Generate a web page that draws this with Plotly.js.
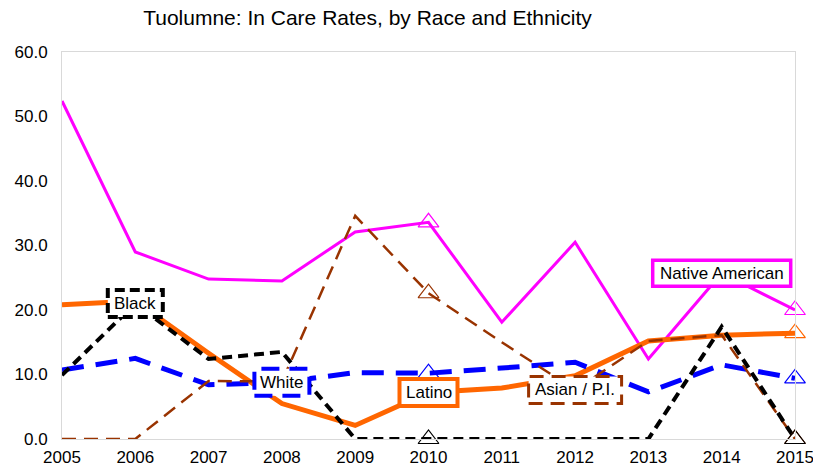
<!DOCTYPE html>
<html>
<head>
<meta charset="utf-8">
<script src="https://cdn.plot.ly/plotly-3.0.1.min.js"></script>
<style>html,body{margin:0;padding:0;background:#fff;}#chart{width:813px;height:471px;}</style>
</head>
<body>
<div id="chart"></div>
<script>
const years = [2005, 2006, 2007, 2008, 2009, 2010, 2011, 2012, 2013, 2014, 2015];
const nativeAmerican = [52.4, 29.0, 24.8, 24.5, 32.1, 33.6, 18.1, 30.5, 12.4, 25.7, 20.0];
const latino = [20.8, 21.4, 13.3, 5.5, 2.1, 7.2, 7.9, 9.8, 15.2, 16.1, 16.4];
const white = [10.7, 12.5, 8.4, 8.8, 10.3, 10.2, 11.0, 11.9, 7.3, 11.5, 9.4];
const asianPI = [0.0, 0.0, 9.0, 8.9, 34.6, 22.6, 15.0, 7.6, 15.2, 16.1, 0.0];
const black = [9.9, 21.0, 12.4, 13.5, 0.0, 0.0, 0.0, 0.0, 0.0, 17.4, 0.0];
const seriesNames = ["Native American", "Latino", "White", "Asian / P.I.", "Black"];
const markerYears = [2010, 2015];
const labelYears = {"Native American": 2014, "Latino": 2010, "White": 2008, "Asian / P.I.": 2012, "Black": 2006};

const styles = {
  "Native American": {color: "#FF00FF", width: 3, dash: "solid", box: [138, 26], bdash: "solid", bw: 3.5},
  "Latino": {color: "#FF6600", width: 5, dash: "solid", box: [58, 27], bdash: "solid", bw: 4},
  "White": {color: "#0000FF", width: 5, dash: "22px,12px", box: [55, 27], bdash: "18px,10px", bw: 4},
  "Asian / P.I.": {color: "#993300", width: 2.5, dash: "14px,8px", box: [93, 27], bdash: "14px,8px", bw: 3},
  "Black": {color: "#000000", width: 4, dash: "10px,6px", box: [55, 27], bdash: "10px,5px", bw: 4}
};
const dataMap = {"Native American": nativeAmerican, "Latino": latino, "White": white, "Asian / P.I.": asianPI, "Black": black};
const FONT = "Liberation Sans, Arial, sans-serif";

const traces = [];
const shapes = [];
const annotations = [];
seriesNames.forEach(name => {
  const s = styles[name];
  const vals = dataMap[name];
  traces.push({x: years, y: vals, type: "scatter", mode: "lines", name: name,
    line: {color: s.color, width: s.width, dash: s.dash}, cliponaxis: false, hoverinfo: "x+y+name"});
});
seriesNames.forEach(name => {
  const s = styles[name];
  const vals = dataMap[name];
  const mx = markerYears, my = markerYears.map(yr => vals[years.indexOf(yr)]);
  traces.push({x: mx, y: my, type: "scatter", mode: "markers", showlegend: false, cliponaxis: false,
    marker: {symbol: "triangle-up-open", size: 18, color: s.color, line: {width: 1.2, color: s.color}}});
  const ly = labelYears[name];
  const lv = vals[years.indexOf(ly)];
  const w = s.box[0], h = s.box[1];
  shapes.push({type: "rect", xref: "x", yref: "y", xsizemode: "pixel", ysizemode: "pixel",
    xanchor: ly, yanchor: lv, x0: -w/2, x1: w/2, y0: -h/2, y1: h/2,
    fillcolor: "#FFFFFF", line: {color: s.color, width: s.bw, dash: s.bdash}, layer: "above"});
  annotations.push({x: ly, y: lv, xref: "x", yref: "y", text: name, showarrow: false,
    font: {family: FONT, size: 17, color: "#000"}, xanchor: "center", yanchor: "middle"});
});

const layout = {
  width: 813, height: 471,
  margin: {l: 62, r: 18, t: 52, b: 32},
  paper_bgcolor: "#FFFFFF", plot_bgcolor: "#FFFFFF",
  showlegend: false,
  title: {text: "Tuolumne: In Care Rates, by Race and Ethnicity", x: 0.452, xanchor: "center", y: 0.962, yanchor: "middle",
    font: {family: FONT, size: 21, color: "#000"}},
  xaxis: {range: [2005, 2015], tickvals: years, ticktext: years.map(String), showgrid: false, zeroline: false,
    showline: true, linecolor: "#D9D9D9", linewidth: 1, mirror: true, ticks: "", ticklen: 0, ticklabelstandoff: 3,
    ticklabeloverflow: "allow",
    tickfont: {family: FONT, size: 17, color: "#000"}},
  yaxis: {range: [0, 60], tickvals: [0, 10, 20, 30, 40, 50, 60], tickformat: ".1f", showgrid: false, zeroline: false,
    showline: true, linecolor: "#D9D9D9", linewidth: 1, mirror: true, ticks: "", ticklabelstandoff: 10,
    ticklabeloverflow: "allow",
    tickfont: {family: FONT, size: 17, color: "#000"}},
  shapes: shapes,
  annotations: annotations
};
Plotly.newPlot("chart", traces, layout, {displayModeBar: false, staticPlot: true});
</script>
</body>
</html>
